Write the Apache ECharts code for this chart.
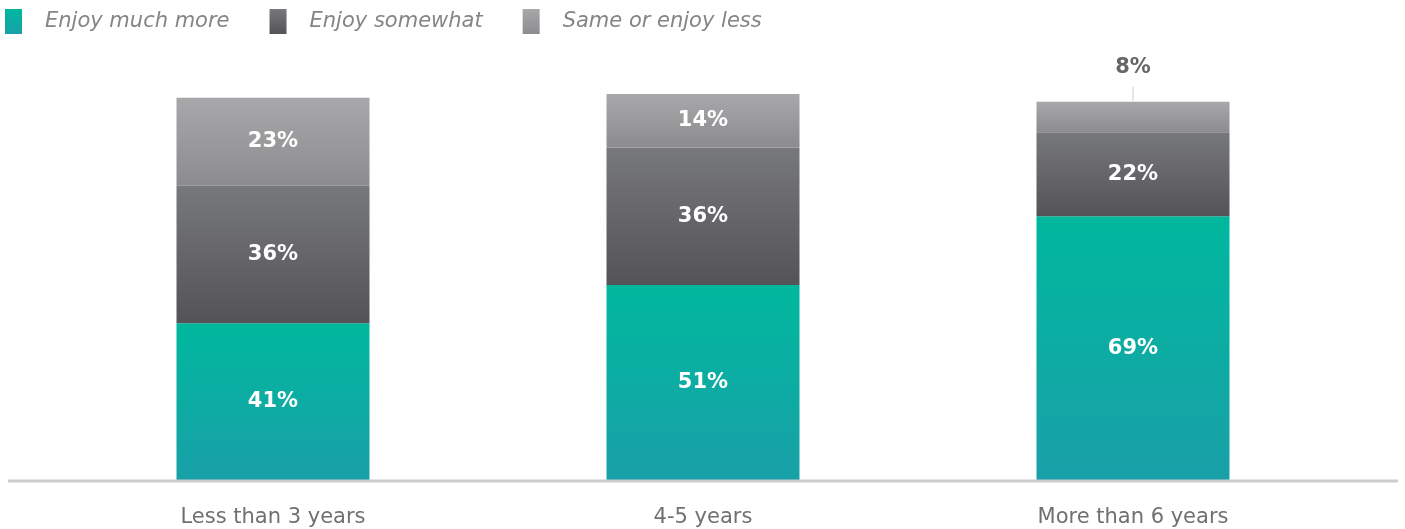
<!DOCTYPE html>
<html>
<head>
<meta charset="utf-8">
<script src="https://cdn.jsdelivr.net/npm/echarts@6/dist/echarts.min.js"></script>
<style>
  html, body { margin: 0; padding: 0; background: #fff; }
  #chart { width: 1405px; height: 529px; }
</style>
</head>
<body>
<div id="chart"></div>
<script>
// tenure groups
var categories = ["Less than 3 years", "4-5 years", "More than 6 years"];
var muchMore = [41, 51, 69];
var somewhat = [36, 36, 22];
var sameOrLess = [23, 14, 8];

var FONT = "DejaVu Sans";

function grad(top, bottom) {
  return new echarts.graphic.LinearGradient(0, 0, 0, 1, [
    { offset: 0, color: top },
    { offset: 1, color: bottom }
  ]);
}

var inLabel = {
  show: true,
  position: "inside",
  color: "#fff",
  fontFamily: FONT,
  fontWeight: "bold",
  fontSize: 21,
  formatter: "{c}%"
};

var chart = echarts.init(document.getElementById("chart"));

var option = {
  animation: false,
  legend: {
    left: 0,
    top: 4,
    itemWidth: 17,
    itemHeight: 25,
    itemGap: 40,
    icon: "rect",
    textStyle: {
      color: "#858585",
      fontFamily: FONT,
      fontStyle: "italic",
      fontSize: 21,
      padding: [0, 0, 0, 18]
    },
    data: ["Enjoy much more", "Enjoy somewhat", "Same or enjoy less"]
  },
  grid: { left: 58, right: 57, top: 94, bottom: 49 },
  xAxis: {
    type: "category",
    data: categories,
    axisLine: { show: false },
    axisTick: { show: false },
    axisLabel: {
      color: "#707070",
      fontFamily: FONT,
      fontSize: 21,
      margin: 27
    }
  },
  yAxis: {
    type: "value",
    min: 0,
    max: 101,
    show: false,
    splitLine: { show: false }
  },
  graphic: [{
    type: "line",
    shape: { x1: 8, y1: 481, x2: 1398, y2: 481 },
    style: { stroke: "#cccccc", lineWidth: 3 },
    z: 10
  }],
  series: [
    {
      name: "Enjoy much more",
      type: "bar",
      stack: "t",
      barWidth: 193,
      itemStyle: { color: grad("#00b89e", "#19a0a8") },
      label: inLabel,
      data: muchMore
    },
    {
      name: "Enjoy somewhat",
      type: "bar",
      stack: "t",
      barWidth: 193,
      itemStyle: { color: grad("#77787c", "#545458") },
      label: inLabel,
      data: somewhat
    },
    {
      name: "Same or enjoy less",
      type: "bar",
      stack: "t",
      barWidth: 193,
      itemStyle: { color: grad("#a8a8aa", "#8c8c8f") },
      label: inLabel,
      data: sameOrLess.map(function (v, i) {
        if (i < 2) return v;
        // too small to fit inside: put the label above with a leader
        return {
          value: v,
          label: {
            show: true,
            position: "top",
            distance: 1,
            formatter: "{v|{c}%}\n{l|}",
            rich: {
              v: { color: "#666", fontFamily: FONT, fontWeight: "bold", fontSize: 21, lineHeight: 28, align: "center", padding: [0, 0, 11, 0] },
              l: { width: 1, height: 14, backgroundColor: "#cccccc", align: "center" }
            }
          }
        };
      })
    }
  ]
};

chart.setOption(option);
</script>
</body>
</html>
